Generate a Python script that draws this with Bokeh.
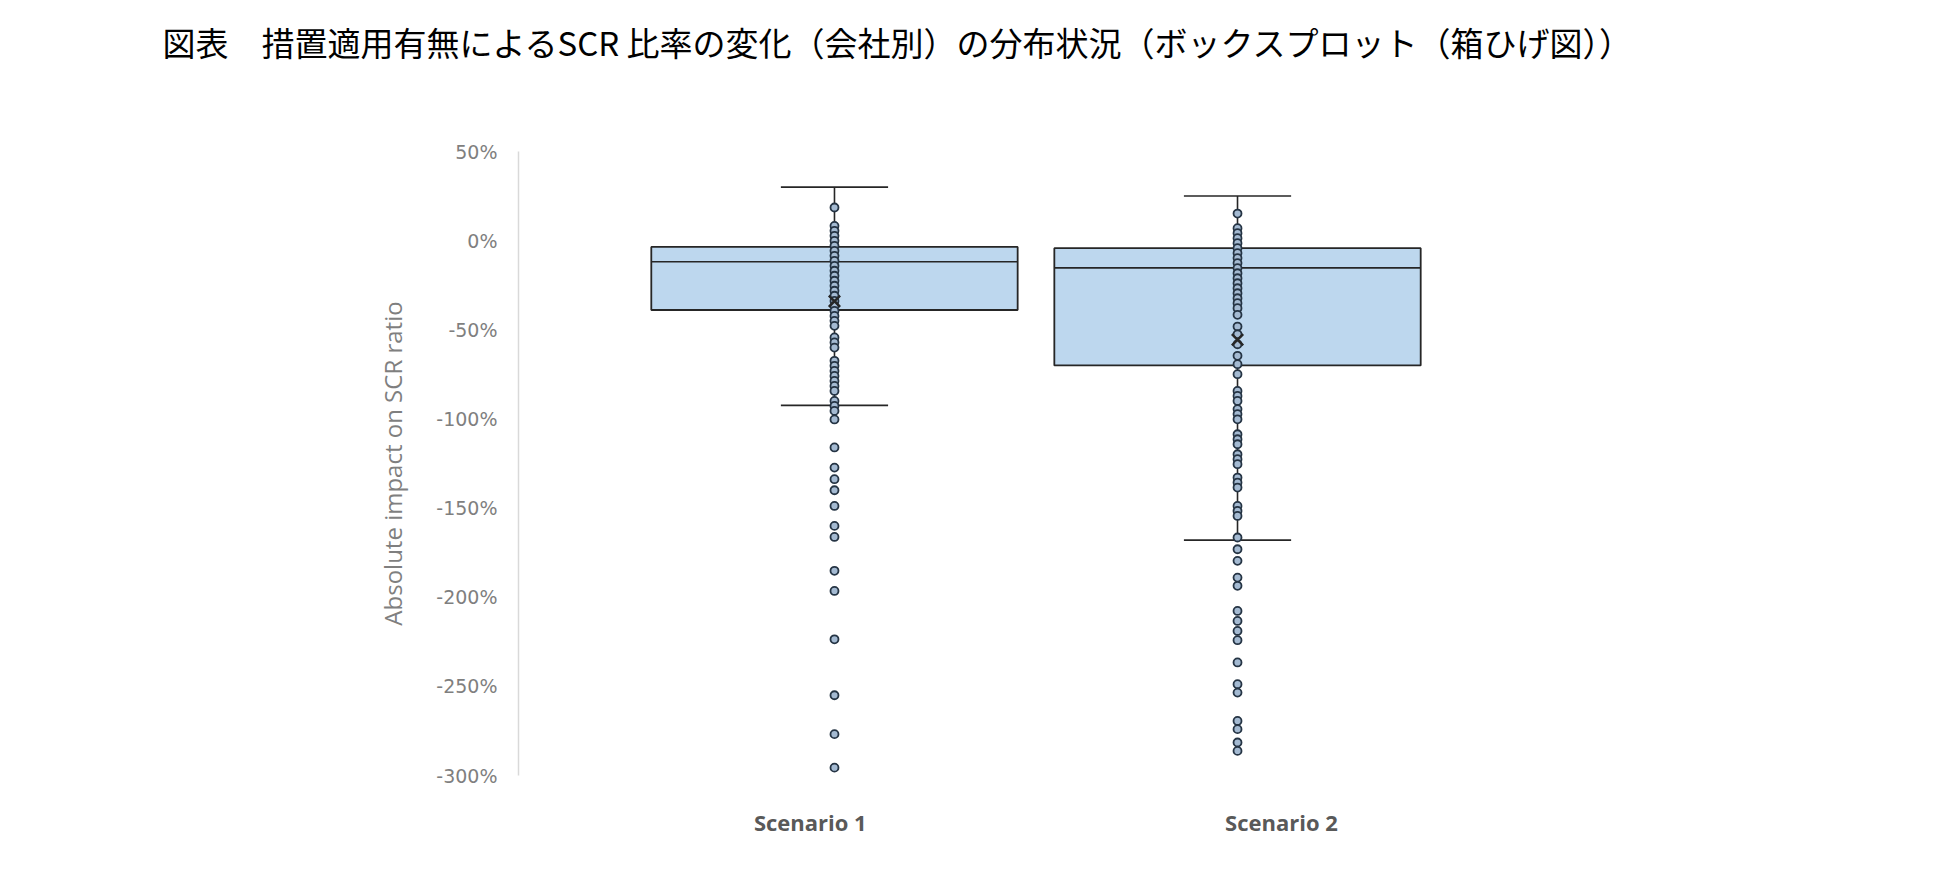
from bokeh.plotting import figure
from bokeh.models import ColumnDataSource, FixedTicker, Range1d, Title
from bokeh.embed import file_html
from bokeh.resources import INLINE

# ---------------- data ----------------
title_text = "図表　措置適用有無によるSCR 比率の変化（会社別）の分布状況（ボックスプロット（箱ひげ図））"
y_axis_title = "Absolute impact on SCR ratio"
categories = ["Scenario 1", "Scenario 2"]

upper_whisker = [30.0, 25.0]
q3 = [-3.5, -4.2]
median = [-11.8, -15.3]
q1 = [-38.9, -70.0]
lower_whisker = [-92.4, -168.0]
mean = [-34.0, -55.6]

points_s1 = [18.6, 8.3, 5.5, 2.7, -0.1, -2.9, -5.7, -8.5, -11.3, -14.1, -16.9, -19.7,
             -22.5, -25.3, -28.1, -30.9, -33.8, -36.6, -39.4, -42.2, -45.0, -47.8,
             -54.3, -57.1, -60.0, -67.4, -70.2, -73.1, -75.9, -78.7, -81.5, -84.3,
             -89.9, -92.7, -95.5, -100.3, -116.0, -127.3, -133.8, -140.0, -148.8,
             -160.0, -166.2, -185.2, -196.5, -223.6, -255.0, -276.8, -295.6]
points_s2 = [15.2, 7.0, 4.2, 1.4, -1.4, -4.2, -7.0, -9.8, -12.6, -15.4, -18.3, -21.1,
             -23.9, -26.7, -29.5, -32.3, -35.1, -37.9, -41.6, -48.2, -52.5, -58.1,
             -64.6, -69.3, -74.9, -84.3, -87.1, -89.9, -94.5, -97.3, -100.2, -108.6,
             -111.4, -114.2, -119.8, -122.6, -125.4, -132.9, -135.7, -138.5, -148.8,
             -151.6, -154.4, -166.5, -173.1, -179.6, -189.0, -193.6, -207.7, -213.3,
             -218.9, -224.1, -236.6, -248.8, -253.5, -269.4, -274.0, -281.5, -286.2]

y_ticks = [50, 0, -50, -100, -150, -200, -250, -300]
y_tick_labels = ["50%", "0%", "-50%", "-100%", "-150%", "-200%", "-250%", "-300%"]

# ---------------- style ----------------
BOX_W = 0.909
CAP_W = 0.266
BOX_FILL = "#bdd7ee"
DARK = "#262626"
LABEL_SHIFT = [-0.06, 0.109]   # category labels sit slightly off the box centres

xs = [i + 1 for i in range(len(categories))]

p = figure(width=1921, height=857,
           x_range=Range1d(0.216, 2.851), y_range=Range1d(-300, 50),
           output_backend="svg", toolbar_location=None,
           min_border_left=518, min_border_right=341,
           min_border_top=151, min_border_bottom=82)
p.outline_line_color = None
p.xgrid.visible = False
p.ygrid.visible = False

# spacer between the frame and the title (keeps the title at the top of the page)
p.add_layout(Title(text=" ", text_font_size="1px", standoff=78), "above")

# title
p.title.text = title_text
p.title.align = "left"
p.title.vertical_align = "bottom"
p.title.offset = -356
p.title.standoff = 10
p.title.text_font = "Noto Sans CJK JP"
p.title.text_font_style = "normal"
p.title.text_font_size = "33px"
p.title.text_color = "black"

# y axis
yax = p.yaxis[0]
yax.ticker = FixedTicker(ticks=y_ticks)
yax.major_label_overrides = {t: l for t, l in zip(y_ticks, y_tick_labels)}
yax.axis_line_color = "#d9d9d9"
yax.axis_line_width = 1.5
yax.major_tick_line_color = None
yax.major_tick_out = 0
yax.major_tick_in = 0
yax.minor_tick_line_color = None
yax.major_label_standoff = 21
yax.major_label_text_color = "#7f7f7f"
yax.major_label_text_font = "DejaVu Sans"
yax.major_label_text_font_size = "19px"
yax.axis_label = y_axis_title
yax.axis_label_text_font = "Open Sans"
yax.axis_label_text_font_style = "normal"
yax.axis_label_text_font_size = "24px"
yax.axis_label_text_color = "#7f7f7f"
yax.axis_label_standoff = 24

# x axis
label_pos = [x + s for x, s in zip(xs, LABEL_SHIFT)]
xax = p.xaxis[0]
xax.ticker = FixedTicker(ticks=label_pos)
xax.major_label_overrides = {lp: c for lp, c in zip(label_pos, categories)}
xax.axis_line_color = None
xax.major_tick_line_color = None
xax.major_tick_out = 0
xax.major_tick_in = 0
xax.minor_tick_line_color = None
xax.major_label_standoff = 31
xax.major_label_text_color = "#595959"
xax.major_label_text_font = "Open Sans"
xax.major_label_text_font_style = "bold"
xax.major_label_text_font_size = "22px"

# boxes
box_src = ColumnDataSource(dict(
    x=xs, q1=q1, q3=q3, med=median, lw=lower_whisker, uw=upper_whisker, mean=mean,
    bl=[x - BOX_W / 2 for x in xs], br=[x + BOX_W / 2 for x in xs],
    cl=[x - CAP_W / 2 for x in xs], cr=[x + CAP_W / 2 for x in xs],
))
p.vbar(x="x", width=BOX_W, top="q3", bottom="q1", source=box_src,
       fill_color=BOX_FILL, line_color=DARK, line_width=1.8)
p.segment(x0="bl", x1="br", y0="med", y1="med", source=box_src,
          line_color=DARK, line_width=1.6)
# whiskers
p.segment(x0="x", x1="x", y0="q3", y1="uw", source=box_src, line_color=DARK, line_width=1.6)
p.segment(x0="x", x1="x", y0="q1", y1="lw", source=box_src, line_color=DARK, line_width=1.6)
p.segment(x0="cl", x1="cr", y0="uw", y1="uw", source=box_src, line_color=DARK, line_width=1.6)
p.segment(x0="cl", x1="cr", y0="lw", y1="lw", source=box_src, line_color=DARK, line_width=1.6)

# points
for x, pts in zip(xs, [points_s1, points_s2]):
    p.scatter(x=[x] * len(pts), y=pts, marker="circle", size=8,
              fill_color="#a4bad2", line_color="#253444", line_width=1.8)

# mean markers
p.scatter(x="x", y="mean", source=box_src, marker="x", size=16,
          line_color=DARK, line_width=2.4)

open("out.html", "w").write(file_html(p, INLINE))
